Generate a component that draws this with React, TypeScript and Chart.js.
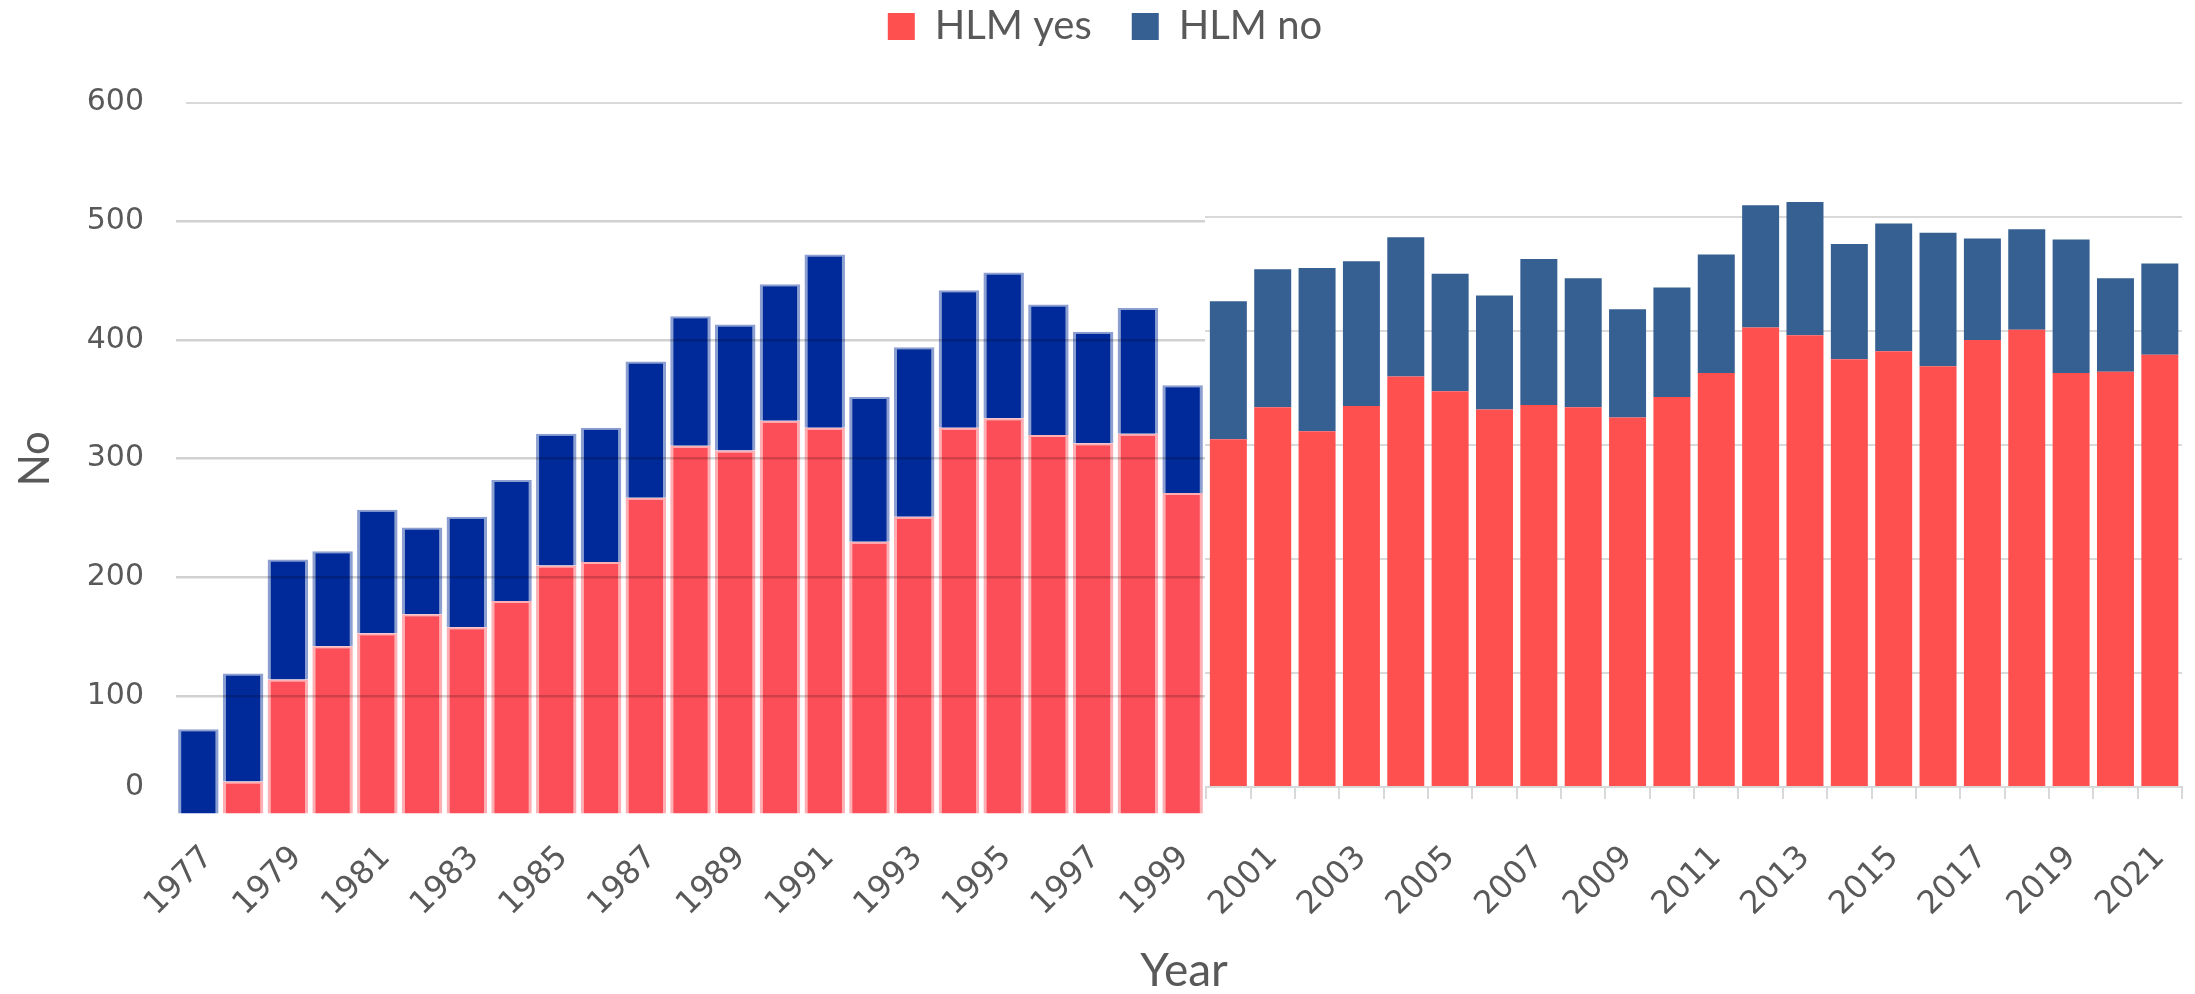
import React, { useEffect, useRef } from 'react';
import { Chart, registerables } from 'chart.js';

Chart.register(...registerables);

// ---------- data ----------
const years = [
  '1977', '1978', '1979', '1980', '1981', '1982', '1983', '1984', '1985', '1986',
  '1987', '1988', '1989', '1990', '1991', '1992', '1993', '1994', '1995', '1996',
  '1997', '1998', '1999', '2000', '2001', '2002', '2003', '2004', '2005', '2006',
  '2007', '2008', '2009', '2010', '2011', '2012', '2013', '2014', '2015', '2016',
  '2017', '2018', '2019', '2020', '2021',
];

const hlmYes = [
  0, 28, 114, 142, 153, 169, 158, 180, 210, 213,
  267, 311, 307, 332, 326, 230, 251, 326, 334, 320,
  313, 321, 271, 305, 333, 312, 334, 360, 347, 331,
  335, 333, 324, 342, 363, 403, 396, 375, 382, 369,
  392, 401, 363, 364, 379,
];

const hlmNo = [
  72, 91, 101, 80, 104, 73, 93, 102, 111, 113,
  115, 109, 106, 115, 146, 122, 143, 116, 123, 110,
  94, 106, 91, 121, 121, 143, 127, 122, 103, 100,
  128, 113, 95, 96, 104, 107, 117, 101, 112, 117,
  89, 88, 117, 82, 80,
];

const yTickValues = [0, 100, 200, 300, 400, 500, 600];
// first year drawn in the newer (right-hand) panel
const splitYear = '2000';

// ---------- layout / style ----------
const W = 2195;
const H = 994;
const TEXT = '#595959';
const LATO = 'Lato, "Open Sans", sans-serif';
const DEJAVU = '"DejaVu Sans", Verdana, sans-serif';

const PAD_LEFT = 28;
const BASE_LEFT = 186;
const BASE_RIGHT = 2182;
const BASE_BOTTOM = 787;
const OV_LEFT = 176;
const OV_RIGHT = 1205;
const OV_TOP = 102.7;
const OV_BOTTOM = 814.7;

const panelFill = {
  id: 'panelFill',
  beforeDraw(chart: any) {
    const { ctx, chartArea } = chart;
    ctx.save();
    ctx.fillStyle = '#ffffff';
    ctx.fillRect(
      chartArea.left,
      chartArea.top + 5,
      chartArea.right - chartArea.left,
      chartArea.bottom - chartArea.top - 4
    );
    ctx.restore();
  },
};

export default function App() {
  const baseRef = useRef<HTMLCanvasElement>(null);
  const ovRef = useRef<HTMLCanvasElement>(null);

  useEffect(() => {
    const split = years.indexOf(splitYear);
    const yMax = yTickValues[yTickValues.length - 1];

    const base = new Chart(baseRef.current as HTMLCanvasElement, {
      type: 'bar',
      data: {
        labels: years,
        datasets: [
          {
            label: 'HLM yes',
            data: hlmYes.map((v, i) => (i < split ? null : v)),
            backgroundColor: '#FF5050',
            borderWidth: 0,
            barPercentage: 0.834,
            categoryPercentage: 1,
            xAxisID: 'x',
            yAxisID: 'y',
          },
          {
            label: 'HLM no',
            data: hlmNo.map((v, i) => (i < split ? null : v)),
            backgroundColor: '#366092',
            borderWidth: 0,
            barPercentage: 0.834,
            categoryPercentage: 1,
            xAxisID: 'x',
            yAxisID: 'y',
          },
        ],
      },
      options: {
        animation: false,
        responsive: false,
        devicePixelRatio: 1,
        layout: { padding: { top: -33.5, left: PAD_LEFT, right: W - BASE_RIGHT, bottom: 0 } },
        plugins: {
          legend: {
            position: 'top',
            labels: {
              boxWidth: 27,
              boxHeight: 27,
              padding: 40,
              color: TEXT,
              font: { family: LATO, size: 40 },
            },
          },
          tooltip: { enabled: false },
        },
        scales: {
          x: {
            stacked: true,
            offset: true,
            grid: {
              drawOnChartArea: false,
              drawTicks: true,
              tickLength: 12,
              color: '#d9d9d9',
              lineWidth: 2,
              offset: true,
            },
            border: { color: '#d9d9d9', width: 2 },
            ticks: {
              autoSkip: false,
              minRotation: 45,
              maxRotation: 45,
              padding: 40,
              color: TEXT,
              font: { family: DEJAVU, size: 32 },
              callback: (_v: any, i: number) => (i % 2 === 0 ? years[i] : ''),
            },
            title: {
              display: true,
              text: 'Year',
              color: TEXT,
              font: { family: LATO, size: 46, lineHeight: 1 },
              padding: { top: 0, bottom: 0 },
            },
            afterFit: (s: any) => {
              s.height = H - BASE_BOTTOM;
              s.paddingLeft = 0;
              s.paddingRight = 0;
            },
          },
          xTop: {
            axis: 'x',
            type: 'category',
            position: 'top',
            grid: { display: false },
            border: { display: false },
            ticks: { display: false },
            afterFit: (s: any) => {
              s.height = 46.2;
              s.paddingLeft = 0;
              s.paddingRight = 0;
            },
          },
          y: {
            stacked: true,
            min: 0,
            max: yMax,
            ticks: {
              stepSize: 100,
              padding: 42,
              color: TEXT,
              font: { family: DEJAVU, size: 30 },
              callback: (v: any) => (v === 0 ? '0' : ''),
            },
            grid: { color: '#d9d9d9', lineWidth: 2, drawTicks: false },
            border: { display: false },
            afterFit: (s: any) => {
              s.width = BASE_LEFT - PAD_LEFT;
            },
          },
        },
      } as any,
    });

    const ov = new Chart(ovRef.current as HTMLCanvasElement, {
      type: 'bar',
      data: {
        labels: years.slice(0, split),
        datasets: [
          {
            label: 'HLM yes',
            data: hlmYes.slice(0, split),
            backgroundColor: '#FC4E58',
            borderColor: 'rgba(252,78,88,0.45)',
            borderWidth: { left: 3, right: 3, top: 2, bottom: 0 },
            barPercentage: 0.905,
            categoryPercentage: 1,
          },
          {
            label: 'HLM no',
            data: hlmNo.slice(0, split),
            backgroundColor: '#002A9A',
            borderColor: 'rgba(0,42,154,0.45)',
            borderWidth: { left: 3, right: 3, top: 2, bottom: 0 },
            barPercentage: 0.905,
            categoryPercentage: 1,
          },
        ],
      },
      options: {
        animation: false,
        responsive: false,
        devicePixelRatio: 1,
        layout: { padding: { top: OV_TOP, left: 0, right: 0, bottom: 0 } },
        plugins: { legend: { display: false }, tooltip: { enabled: false } },
        scales: {
          x: {
            stacked: true,
            grid: { display: false },
            border: { display: false },
            ticks: { display: false },
            afterFit: (s: any) => {
              s.height = H - OV_BOTTOM;
              s.paddingLeft = 0;
              s.paddingRight = 0;
            },
          },
          y: {
            stacked: true,
            min: 0,
            max: yMax,
            ticks: {
              stepSize: 100,
              padding: 32,
              color: TEXT,
              font: { family: DEJAVU, size: 30 },
              callback: (v: any) => (v === 0 ? '' : String(v)),
            },
            grid: {
              z: 1,
              drawTicks: false,
              lineWidth: 2.5,
              color: (c: any) =>
                c.tick && (c.tick.value === 0 || c.tick.value === yMax)
                  ? 'rgba(0,0,0,0)'
                  : 'rgba(0,0,0,0.18)',
            },
            border: { display: false },
            title: {
              display: true,
              text: 'No',
              color: TEXT,
              font: { family: LATO, size: 42, lineHeight: 1 },
              padding: { top: 14, bottom: 0 },
            },
            afterFit: (s: any) => {
              s.width = OV_LEFT;
            },
          },
        },
      } as any,
      plugins: [panelFill],
    });

    return () => {
      ov.destroy();
      base.destroy();
    };
  }, []);

  return (
    <div
      style={{
        position: 'absolute',
        left: 0,
        top: 0,
        width: W,
        height: H,
        background: '#ffffff',
        overflow: 'hidden',
      }}
    >
      <canvas ref={baseRef} width={W} height={H} style={{ position: 'absolute', left: 0, top: 0 }} />
      <canvas ref={ovRef} width={OV_RIGHT} height={H} style={{ position: 'absolute', left: 0, top: 0 }} />
    </div>
  );
}
